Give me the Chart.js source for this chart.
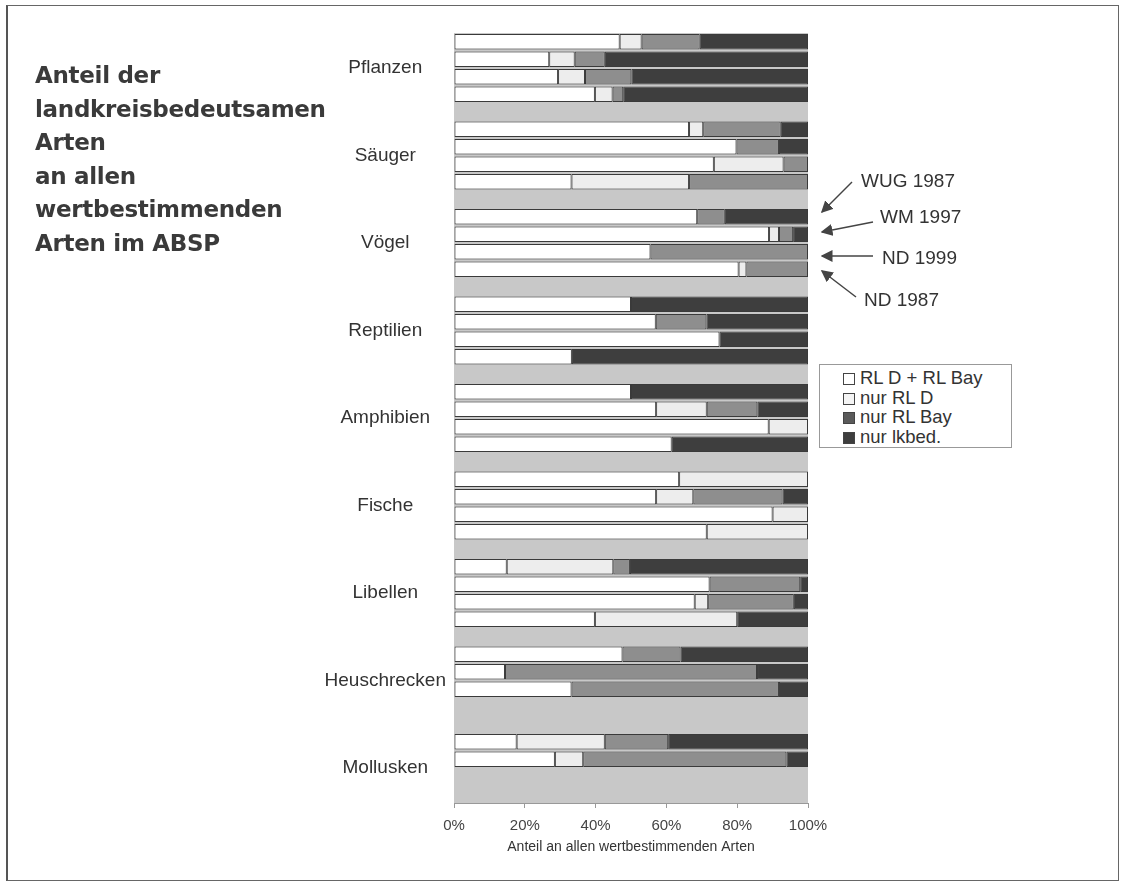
<!DOCTYPE html>
<html>
<head>
<meta charset="utf-8">
<script src="https://cdn.jsdelivr.net/npm/chart.js@4.4.0/dist/chart.umd.min.js"></script>
<style>
  body { margin: 0; background: #fff; }
  #wrap { position: relative; width: 1127px; height: 883px; overflow: hidden; }
  #frame { position: absolute; left: 6px; top: 5px; width: 1110px; height: 874px;
           border: 1px solid #666; border-left: 2px solid #555; }
  #chart { position: absolute; left: 0; top: 0; }
  .title { position: absolute; left: 35px; top: 59px; font: bold 23px "DejaVu Sans", sans-serif;
           color: #3a3a3a; line-height: 33.5px; letter-spacing: -0.3px; }
  .note { position: absolute; font: 19px "Liberation Sans", Arial, sans-serif; color: #333; }
  #legend { position: absolute; left: 819px; top: 364px; width: 193px; height: 84px;
            border: 1px solid #999; background: #fff; font: 18.5px "Liberation Sans", Arial, sans-serif;
            color: #333; padding-top: 3px; box-sizing: border-box; }
  #legend div { height: 19.5px; line-height: 19.5px; padding-left: 23px; }
  #legend span { display: inline-block; width: 10px; height: 10px; border: 1px solid #444;
                 margin-right: 5px; vertical-align: -1px; }
  svg { position: absolute; left: 0; top: 0; }
</style>
</head>
<body>
<div id="wrap">
  <div id="frame"></div>
  <canvas id="chart" width="1127" height="883"></canvas>
  <div class="title">Anteil der<br>landkreisbedeutsamen<br>Arten<br>an allen<br>wertbestimmenden<br>Arten im ABSP</div>
  <div class="note" style="left:861px;top:170px">WUG 1987</div>
  <div class="note" style="left:880px;top:206px">WM 1997</div>
  <div class="note" style="left:882px;top:247px">ND 1999</div>
  <div class="note" style="left:864px;top:289px">ND 1987</div>
  <svg width="1127" height="883">
    <defs>
      <marker id="arr" markerWidth="8" markerHeight="8" refX="7" refY="4" orient="auto">
        <path d="M0,0 L8,4 L0,8 z" fill="#444"/>
      </marker>
    </defs>
    <g stroke="#444" stroke-width="1.5" marker-end="url(#arr)">
      <line x1="852" y1="182" x2="822" y2="212"/>
      <line x1="873" y1="222" x2="822" y2="232"/>
      <line x1="873" y1="256" x2="822" y2="256"/>
      <line x1="856" y1="297" x2="822" y2="271"/>
    </g>
  </svg>
  <div id="legend"></div>
</div>
<script>
// Gruppen und Erhebungen
var groups = ['Pflanzen', 'Säuger', 'Vögel', 'Reptilien', 'Amphibien', 'Fische', 'Libellen', 'Heuschrecken', 'Mollusken'];
var surveys = ['WUG 1987', 'WM 1997', 'ND 1999', 'ND 1987'];
var seriesNames = ['RL D + RL Bay', 'nur RL D', 'nur RL Bay', 'nur lkbed.'];
var seriesColors = ['#ffffff', '#ededed', '#8e8e8e', '#3e3e3e'];
var legendColors = ['#ffffff', '#f4f4f4', '#5a5a5a', '#3e3e3e'];
var xTicks = [0, 20, 40, 60, 80, 100];

// Anteile in %, je Gruppe: WUG 1987, WM 1997, ND 1999, ND 1987
var rlDundBay = [
  [46.8, 26.9, 29.4, 39.8],
  [66.4, 79.8, 73.4, 33.2],
  [68.7, 89.0, 55.5, 80.4],
  [50.0, 57.0, 75.0, 33.3],
  [50.0, 57.1, 88.9, 61.5],
  [63.6, 57.1, 90.0, 71.4],
  [14.9, 72.2, 68.0, 39.8],
  [47.6, 14.4, 33.2, null],
  [17.7, 28.5, null, null]
];
var nurRLD = [
  [6.2, 7.2, 7.6, 5.0],
  [4.0, 0, 19.7, 33.2],
  [0, 2.8, 0, 2.2],
  [0, 0, 0, 0],
  [0, 14.3, 11.1, 0],
  [36.4, 10.5, 10.0, 28.6],
  [30.1, 0, 3.8, 40.2],
  [0, 0, 0, null],
  [24.9, 8.0, null, null]
];
var nurRLBay = [
  [16.4, 8.5, 13.1, 3.0],
  [21.9, 12.0, 6.9, 33.6],
  [7.8, 4.0, 44.5, 17.4],
  [0, 14.3, 0, 0],
  [0, 14.3, 0, 0],
  [0, 25.2, 0, 0],
  [4.7, 25.6, 24.2, 0],
  [16.4, 71.2, 58.6, null],
  [17.9, 57.4, null, null]
];
var nurLkbed = [
  [30.6, 57.4, 49.9, 52.2],
  [7.7, 8.2, 0, 0],
  [23.5, 4.2, 0, 0],
  [50.0, 28.7, 25.0, 66.7],
  [50.0, 14.3, 0, 38.5],
  [0, 7.2, 0, 0],
  [50.3, 2.2, 4.0, 20.0],
  [36.0, 14.4, 8.2, null],
  [39.5, 6.1, null, null]
];

// Zeilen aufbauen: je Gruppe 4 Erhebungen + eine leere Trennzeile
var rowLabels = [];
var tables = [rlDundBay, nurRLD, nurRLBay, nurLkbed];
var rows = [[], [], [], []];
groups.forEach(function (g, gi) {
  surveys.forEach(function (s, si) {
    rowLabels.push(si === 1 ? g : '');
    tables.forEach(function (t, k) { rows[k].push(t[gi][si]); });
  });
  if (gi < groups.length - 1) {
    rowLabels.push('');
    rows.forEach(function (r) { r.push(null); });
  }
});

var plotBg = {
  id: 'plotBg',
  beforeDatasetsDraw: function (chart) {
    var a = chart.chartArea, ctx = chart.ctx;
    ctx.save();
    ctx.fillStyle = '#c8c8c8';
    ctx.fillRect(a.left, a.top, a.right - a.left, a.bottom - a.top);
    ctx.restore();
  }
};

new Chart(document.getElementById('chart'), {
  type: 'bar',
  data: {
    labels: rowLabels,
    datasets: seriesNames.map(function (n, k) {
      return {
        label: n,
        data: rows[k],
        backgroundColor: seriesColors[k],
        borderColor: '#3a3a3a',
        borderWidth: 1,
        borderSkipped: false,
        barPercentage: 0.88,
        categoryPercentage: 1
      };
    })
  },
  options: {
    indexAxis: 'y',
    responsive: false,
    animation: false,
    layout: { padding: { top: 33, right: 319, left: 0, bottom: 23 } },
    plugins: { legend: { display: false }, tooltip: { enabled: false } },
    scales: {
      x: {
        stacked: true,
        min: 0, max: 100,
        afterBuildTicks: function (s) { s.ticks = xTicks.map(function (v) { return { value: v }; }); },
        afterFit: function (s) { s.height = 57; },
        grid: { drawOnChartArea: false, tickLength: 5, color: '#999' },
        border: { color: '#999' },
        ticks: {
          padding: 9,
          color: '#444',
          font: { family: 'Liberation Sans', size: 15 },
          callback: function (v) { return v + '%'; }
        },
        title: {
          display: true,
          text: 'Anteil an allen wertbestimmenden Arten',
          color: '#333',
          font: { family: 'Liberation Sans', size: 14 },
          padding: { top: 2, bottom: 4 }
        }
      },
      y: {
        stacked: true,
        afterFit: function (s) { s.width = 454; },
        grid: { display: false, drawTicks: false },
        border: { color: '#999' },
        ticks: {
          autoSkip: false,
          crossAlign: 'center',
          padding: 8,
          labelOffset: 8.75,
          color: '#333',
          font: { family: 'Liberation Sans', size: 19 }
        }
      }
    }
  },
  plugins: [plotBg]
});

var leg = document.getElementById('legend');
seriesNames.forEach(function (n, k) {
  var d = document.createElement('div');
  d.innerHTML = '<span style="background:' + legendColors[k] + '"></span>' + n;
  leg.appendChild(d);
});
</script>
</body>
</html>
